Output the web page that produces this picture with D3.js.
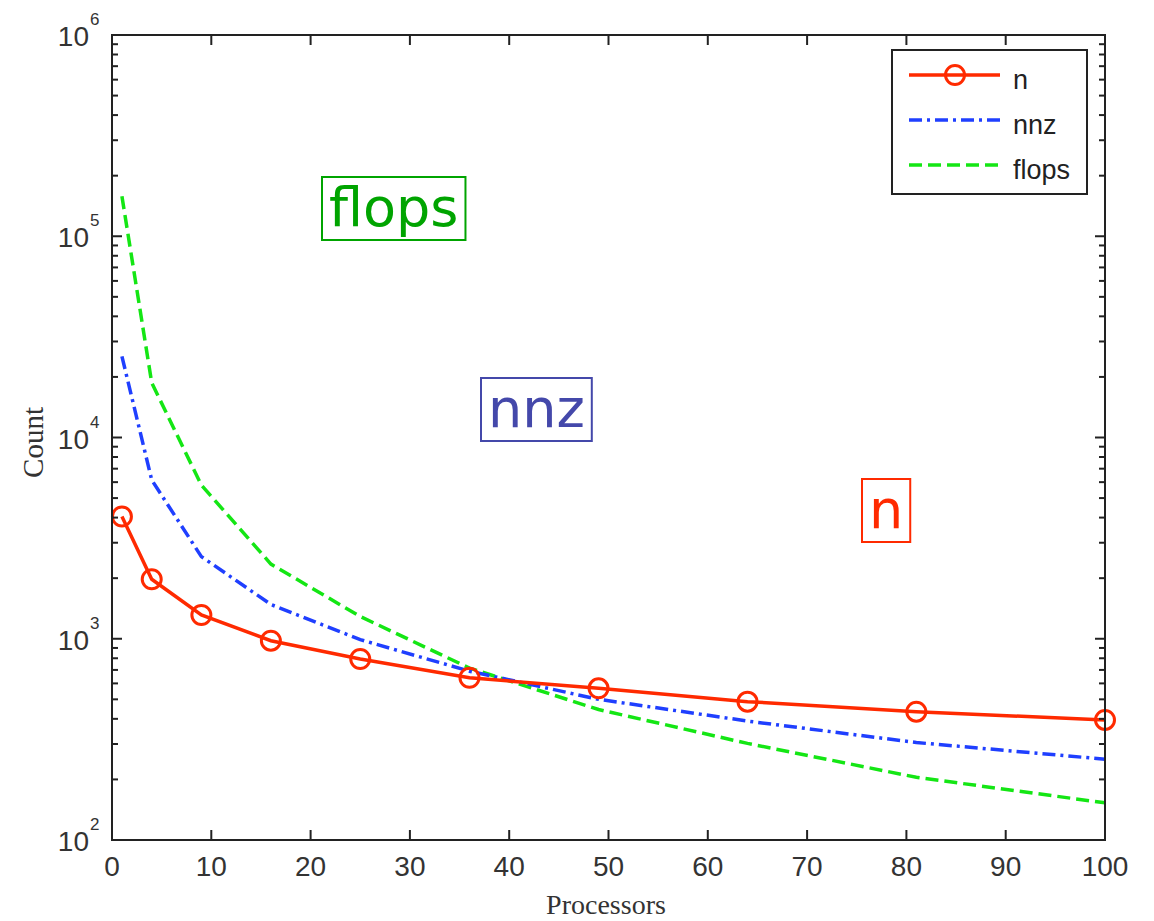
<!DOCTYPE html>
<html><head><meta charset="utf-8">
<script src="https://cdn.jsdelivr.net/npm/d3@7"></script>
<style>body{margin:0;background:#fff}</style>
</head><body><svg id="c" width="1154" height="921"></svg>
<script>
// ---- data ----
const processors = [1, 4, 9, 16, 25, 36, 49, 64, 81, 100];
const nValues = [4050, 1975, 1312, 978, 793, 640, 567, 487, 434, 395];
const nnzValues = [25300, 6150, 2560, 1480, 990, 690, 500, 390, 305, 252];
const flopsValues = [158000, 18700, 5800, 2350, 1290, 715, 445, 302, 205, 153];
const xTicks = [0, 10, 20, 30, 40, 50, 60, 70, 80, 90, 100];
const yExponents = [2, 3, 4, 5, 6];
const seriesNames = ["n", "nnz", "flops"];
const xLabel = "Processors";
const yLabel = "Count";

// ---- layout ----
const L = 112, R = 1105, T = 35, B = 840;
const svg = d3.select("#c");
const x = d3.scaleLinear().domain([0, 100]).range([L, R]);
const y = d3.scaleLog().domain([1e2, 1e6]).range([B, T]);

const colors = { n: "#ff2a00", nnz: "#1f3fff", flops: "#14e614" };
const dashes = { n: null, nnz: "13,5,3,5", flops: "13,6" };
const data = { n: nValues, nnz: nnzValues, flops: flopsValues };

// ---- annotations (drawn first, behind) ----
const notes = [
  { name: "flops", x: 329, y: 226, color: "#00a400" },
  { name: "nnz", x: 488, y: 427, color: "#4448aa" },
  { name: "n", x: 869, y: 528, color: "#ff2a00" }
];
const gNotes = svg.append("g");
notes.forEach(nt => {
  const gg = gNotes.append("g");
  const r = gg.append("rect");
  const t = gg.append("text").attr("x", nt.x).attr("y", nt.y)
    .attr("font-family", "DejaVu Sans, Verdana, sans-serif").attr("font-size", 54)
    .attr("fill", nt.color).text(nt.name);
  const bb = t.node().getBBox();
  r.attr("x", bb.x - 7).attr("y", bb.y + 1)
    .attr("width", bb.width + 14).attr("height", bb.height)
    .attr("fill", "none").attr("stroke", nt.color).attr("stroke-width", 2);
});

// ---- series ----
const line = d3.line().x(d => x(d[0])).y(d => y(d[1]));
["flops", "nnz", "n"].forEach(k => {
  const pts = processors.map((p, i) => [p, data[k][i]]);
  svg.append("path").datum(pts).attr("d", line)
    .attr("fill", "none").attr("stroke", colors[k]).attr("stroke-width", 3.5)
    .attr("stroke-dasharray", dashes[k]);
});
svg.append("g").selectAll("circle").data(processors.map((p, i) => [p, nValues[i]]))
  .join("circle").attr("cx", d => x(d[0])).attr("cy", d => y(d[1])).attr("r", 9.5)
  .attr("fill", "none").attr("stroke", colors.n).attr("stroke-width", 3);

// ---- axes frame ----
const axisColor = "#222";
svg.append("rect").attr("x", L).attr("y", T).attr("width", R - L).attr("height", B - T)
  .attr("fill", "none").attr("stroke", axisColor).attr("stroke-width", 2);

const tickFont = "Liberation Sans, Arial, sans-serif";
// x ticks (bottom & top, inward)
const gx = svg.append("g");
xTicks.forEach(t => {
  gx.append("line").attr("x1", x(t)).attr("x2", x(t)).attr("y1", B).attr("y2", B - 10)
    .attr("stroke", axisColor).attr("stroke-width", 2);
  gx.append("line").attr("x1", x(t)).attr("x2", x(t)).attr("y1", T).attr("y2", T + 10)
    .attr("stroke", axisColor).attr("stroke-width", 2);
  gx.append("text").attr("x", x(t)).attr("y", 876).attr("text-anchor", "middle")
    .attr("font-family", tickFont).attr("font-size", 28)
    .attr("fill", "#333").text(t);
});

// y ticks, major and minor
const gy = svg.append("g");
yExponents.forEach((e, i) => {
  const v = Math.pow(10, e);
  [L, R].forEach((ax, j) => {
    const dir = j === 0 ? 1 : -1;
    gy.append("line").attr("x1", ax).attr("x2", ax + dir * 10).attr("y1", y(v)).attr("y2", y(v))
      .attr("stroke", axisColor).attr("stroke-width", 2);
    if (i < yExponents.length - 1) {
      for (let m = 2; m <= 9; m++) {
        gy.append("line").attr("x1", ax).attr("x2", ax + dir * 6)
          .attr("y1", y(m * v)).attr("y2", y(m * v))
          .attr("stroke", axisColor).attr("stroke-width", 2);
      }
    }
  });
  gy.append("text").attr("x", 89).attr("y", y(v) + 11).attr("text-anchor", "end")
    .attr("font-family", tickFont).attr("font-size", 28).attr("fill", "#333").text("10");
  gy.append("text").attr("x", 90).attr("y", y(v) - 10)
    .attr("font-family", tickFont).attr("font-size", 17).attr("fill", "#333")
    .text(e);
});

// axis labels
svg.append("text").attr("x", 606).attr("y", 914).attr("text-anchor", "middle")
  .attr("font-family", "Liberation Serif, Times New Roman, serif").attr("font-size", 28)
  .attr("fill", "#333").text(xLabel);
svg.append("text").attr("transform", `translate(43,${(T + B) / 2 + 5}) rotate(-90)`)
  .attr("text-anchor", "middle")
  .attr("font-family", "Liberation Serif, Times New Roman, serif").attr("font-size", 29)
  .attr("fill", "#333").text(yLabel);

// ---- legend ----
const lg = svg.append("g");
lg.append("rect").attr("x", 892).attr("y", 50).attr("width", 195).attr("height", 144)
  .attr("fill", "#fff").attr("stroke", axisColor).attr("stroke-width", 2);
seriesNames.forEach((k, i) => {
  const ly = 75 + i * 45;
  lg.append("line").attr("x1", 909).attr("x2", 1000).attr("y1", ly).attr("y2", ly)
    .attr("stroke", colors[k]).attr("stroke-width", 3.5).attr("stroke-dasharray", dashes[k]);
  if (k === "n") {
    lg.append("circle").attr("cx", 955).attr("cy", ly).attr("r", 9.5)
      .attr("fill", "none").attr("stroke", colors.n).attr("stroke-width", 3);
  }
  lg.append("text").attr("x", 1013).attr("y", ly + 14)
    .attr("font-family", tickFont).attr("font-size", 27)
    .attr("fill", "#222").text(k);
});
</script>
</body></html>
